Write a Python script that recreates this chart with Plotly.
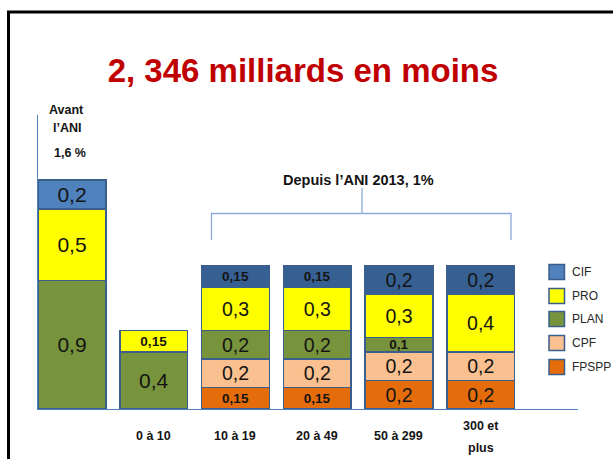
import plotly.graph_objects as go

# ---- data ----
categories = ["", "0 à 10", "10 à 19", "20 à 49", "50 à 299", "300 et<br>plus"]
series_names = ["FPSPP", "CPF", "PLAN", "PRO", "CIF"]  # stacking order bottom -> top
FPSPP = [None, None, 0.15, 0.15, 0.2, 0.2]
CPF = [None, None, 0.2, 0.2, 0.2, 0.2]
PLAN = [0.9, 0.4, 0.2, 0.2, 0.1, None]
PRO = [0.5, 0.15, 0.3, 0.3, 0.3, 0.4]
CIF = [0.2, None, 0.15, 0.15, 0.2, 0.2]
values = {"FPSPP": FPSPP, "CPF": CPF, "PLAN": PLAN, "PRO": PRO, "CIF": CIF}

title_text = "2, 346 milliards en moins"
before_label = ["Avant", "l’ANI", "1,6 %"]
after_label = "Depuis l’ANI 2013, 1%"

# ---- styles ----
colors = {
    "FPSPP": "#E46C0A",
    "CPF": "#FAC090",
    "PLAN": "#77933C",
    "PRO": "#FFFF00",
    "CIF": "#4F81BD",
}
cif_dark = "#376092"
outline = "#3A5F8C"
FONT = "Liberation Sans, Arial, sans-serif"
TXT = "#141414"

# pixel layout helpers (plot area: x 38..578, y 115..409)
L, R, T, B = 38, 578, 115, 409
W, H = 613, 459
PX_PER_UNIT = 143.0
def px(x):
    return (x - L) / (R - L)
def py(y):
    return (B - y) / (B - T)

xs = list(range(len(categories)))

fig = go.Figure()
for name in series_names:
    vals = values[name]
    texts, sizes = [], []
    for i, v in enumerate(vals):
        if v is None:
            texts.append("")
            sizes.append(12)
        elif v < 0.2:
            texts.append("<b>" + f"{v:g}".replace(".", ",") + "</b>")
            sizes.append(13.5)
        else:
            texts.append(f"{v:g}".replace(".", ","))
            sizes.append(21 if i < 2 else 19.5)
    if name == "CIF":
        mcol = [colors["CIF"] if i == 0 else cif_dark for i in xs]
    else:
        mcol = colors[name]
    fig.add_trace(go.Bar(
        x=xs, y=vals, name=name,
        width=0.83,
        marker=dict(color=mcol, line=dict(color=outline, width=1.5)),
        text=texts, textposition="inside", insidetextanchor="middle",
        textangle=0, constraintext="none",
        textfont=dict(family=FONT, size=sizes, color=TXT),
        hoverinfo="skip", showlegend=False,
    ))

annotations = []
# category labels (x axis)
for i, c in enumerate(categories):
    if not c:
        continue
    lines = c.split("<br>")
    ys = [436] if len(lines) == 1 else [426, 448]
    for ln, yy in zip(lines, ys):
        annotations.append(dict(x=i, y=py(yy), xref="x", yref="paper", text="<b>%s</b>" % ln,
                                showarrow=False, font=dict(family=FONT, size=12.5, color=TXT),
                                xanchor="center", yanchor="middle"))
# Avant l'ANI
for txt, yy, xx in zip(before_label, [110, 128, 153], [66, 67, 70]):
    annotations.append(dict(x=px(xx), y=py(yy), xref="paper", yref="paper", text="<b>%s</b>" % txt,
                            showarrow=False, font=dict(family=FONT, size=12.5, color=TXT),
                            xanchor="center", yanchor="middle"))
annotations.append(dict(x=px(358), y=py(180), xref="paper", yref="paper", text="<b>%s</b>" % after_label,
                        showarrow=False, font=dict(family=FONT, size=14.5, color=TXT),
                        xanchor="center", yanchor="middle"))

bracket_col = "#8EAADB"
shapes = [
    # slide frame
    dict(type="rect", xref="paper", yref="paper", x0=px(8.5), x1=px(660), y0=py(500), y1=py(12),
         line=dict(color="black", width=3), fillcolor="rgba(0,0,0,0)", layer="above"),
    # bracket
    dict(type="path", xref="paper", yref="paper",
         path="M %f %f L %f %f L %f %f L %f %f" % (px(211.5), py(240), px(211.5), py(213.5),
                                                  px(511), py(213.5), px(511), py(240)),
         line=dict(color=bracket_col, width=1.3)),
    dict(type="line", xref="paper", yref="paper", x0=px(362), x1=px(362), y0=py(188), y1=py(213.5),
         line=dict(color=bracket_col, width=1.3)),
]

# legend (top -> bottom: CIF, PRO, PLAN, CPF, FPSPP)
leg_y = [272, 296, 319, 343, 367]
for name, yy in zip(series_names[::-1], leg_y):
    shapes.append(dict(type="rect", xref="paper", yref="paper",
                       x0=px(549), x1=px(564.5), y0=py(yy + 7.5), y1=py(yy - 7.5),
                       fillcolor=colors[name], line=dict(color=outline, width=1.5)))
    annotations.append(dict(x=px(569.5), y=py(yy), xref="paper", yref="paper", text=name,
                            showarrow=False, font=dict(family=FONT, size=12, color="#262626"),
                            xanchor="left", yanchor="middle"))

fig.update_layout(
    width=W, height=H,
    margin=dict(l=L, r=W - R, t=T, b=H - B, pad=0),
    paper_bgcolor="white", plot_bgcolor="white",
    barmode="stack",
    title=dict(text="<b>%s</b>" % title_text, x=303 / W, xanchor="center",
               y=1 - 70 / H, yanchor="middle",
               font=dict(family=FONT, size=33, color="#C00000")),
    xaxis=dict(range=[-0.416, 6.19], showticklabels=False, showgrid=False, zeroline=False,
               showline=True, linecolor="#4F81BD", linewidth=1, ticks=""),
    yaxis=dict(range=[0, (B - T) / PX_PER_UNIT], showticklabels=False, showgrid=False, zeroline=False,
               showline=True, linecolor="#4F81BD", linewidth=1, ticks=""),
    showlegend=False,
    annotations=annotations,
    shapes=shapes,
)

fig.write_html("out.html", config={"displayModeBar": False},
               post_script="document.body.style.margin='0';document.body.style.overflow='hidden';")
